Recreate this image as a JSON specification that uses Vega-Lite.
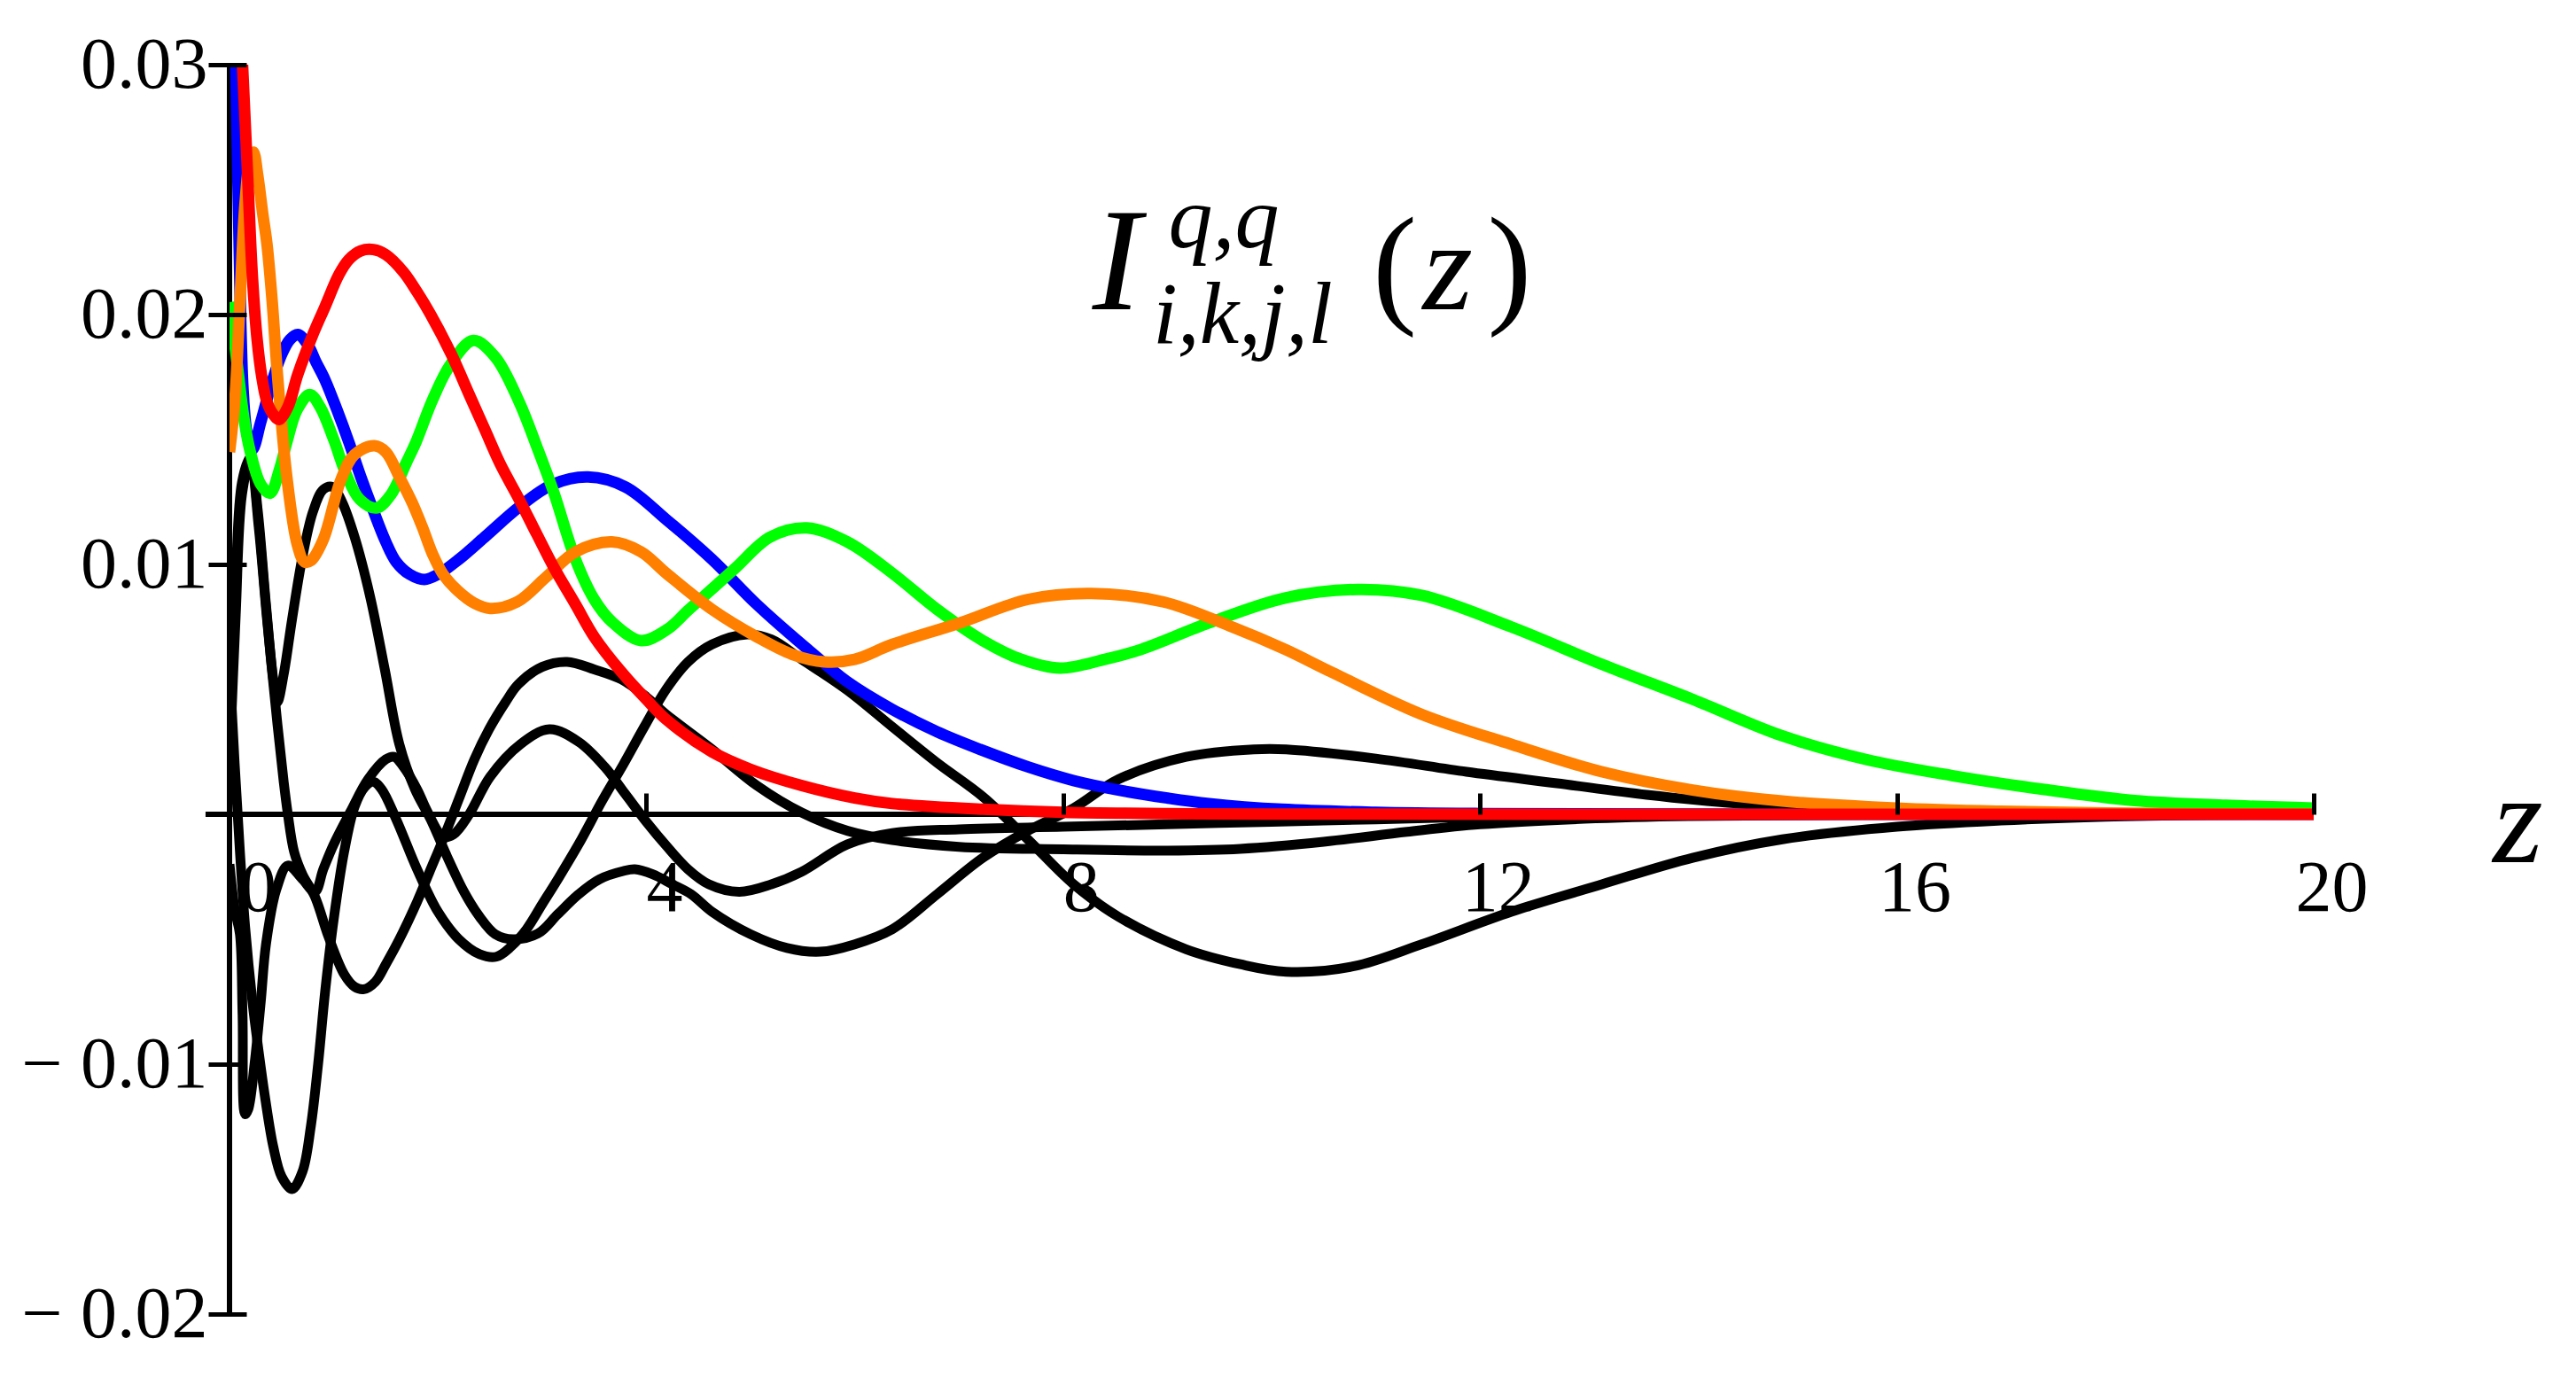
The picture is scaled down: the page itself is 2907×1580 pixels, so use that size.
{
  "$schema": "https://vega.github.io/schema/vega-lite/v6.json",
  "width": 2352,
  "height": 1410,
  "autosize": {"type": "none"},
  "padding": {"left": 259, "top": 73, "right": 296, "bottom": 97},
  "background": "white",
  "config": {"view": {"stroke": null}},
  "datasets": {
    "axisx": [{"z": -0.23, "z2": 20, "v": 0}],
    "axisy": [{"z": 0, "v": -0.02, "v2": 0.03}],
    "black": [
      {"s":"P","z":0,"v":0.004},{"s":"P","z":0.06,"v":0.0095},{"s":"P","z":0.12,"v":0.0133},{"s":"P","z":0.2,"v":0.0143},{"s":"P","z":0.27,"v":0.0122},{"s":"P","z":0.35,"v":0.0084},{"s":"P","z":0.42,"v":0.0054},{"s":"P","z":0.46,"v":0.0045},{"s":"P","z":0.52,"v":0.0056},{"s":"P","z":0.6,"v":0.0078},{"s":"P","z":0.7,"v":0.0103},{"s":"P","z":0.8,"v":0.0121},{"s":"P","z":0.9,"v":0.013},{"s":"P","z":0.99,"v":0.0131},{"s":"P","z":1.08,"v":0.0125},{"s":"P","z":1.2,"v":0.0111},{"s":"P","z":1.35,"v":0.0087},{"s":"P","z":1.49,"v":0.0058},{"s":"P","z":1.63,"v":0.0028},{"s":"P","z":1.78,"v":0.001},{"s":"P","z":1.93,"v":-0.0002},{"s":"P","z":2.1,"v":-0.0018},{"s":"P","z":2.25,"v":-0.0031},{"s":"P","z":2.4,"v":-0.0041},{"s":"P","z":2.55,"v":-0.0048},{"s":"P","z":2.72,"v":-0.005},{"s":"P","z":2.96,"v":-0.00477},{"s":"P","z":3.15,"v":-0.004},{"s":"P","z":3.35,"v":-0.0032},{"s":"P","z":3.55,"v":-0.0026},{"s":"P","z":3.78,"v":-0.00227},{"s":"P","z":3.89,"v":-0.0022},{"s":"P","z":4.06,"v":-0.0024},{"s":"P","z":4.25,"v":-0.0028},{"s":"P","z":4.43,"v":-0.0032},{"s":"P","z":4.63,"v":-0.0039},{"s":"P","z":5.0,"v":-0.0048},{"s":"P","z":5.35,"v":-0.00535},{"s":"P","z":5.67,"v":-0.0055},{"s":"P","z":6.0,"v":-0.0052},{"s":"P","z":6.36,"v":-0.0046},{"s":"P","z":6.79,"v":-0.0032},{"s":"P","z":7.23,"v":-0.00174},{"s":"P","z":7.66,"v":-0.00066},{"s":"P","z":8.1,"v":0.00025},{"s":"P","z":8.53,"v":0.0014},{"s":"P","z":9.18,"v":0.0023},{"s":"P","z":9.83,"v":0.0026},{"s":"P","z":10.14,"v":0.0026},{"s":"P","z":11.0,"v":0.00223},{"s":"P","z":11.87,"v":0.0017},{"s":"P","z":12.74,"v":0.00124},{"s":"P","z":13.6,"v":0.00078},{"s":"P","z":14.47,"v":0.00043},{"s":"P","z":15.3,"v":0.00025},{"s":"P","z":16.5,"v":0.0001},{"s":"P","z":18,"v":0.00003},{"s":"P","z":20,"v":0},
      {"s":"E","z":0,"v":0.006},{"s":"E","z":0.05,"v":0.002},{"s":"E","z":0.1,"v":-0.0015},{"s":"E","z":0.15,"v":-0.0045},{"s":"E","z":0.22,"v":-0.0075},{"s":"E","z":0.28,"v":-0.0095},{"s":"E","z":0.34,"v":-0.0113},{"s":"E","z":0.42,"v":-0.0133},{"s":"E","z":0.5,"v":-0.0145},{"s":"E","z":0.6,"v":-0.015},{"s":"E","z":0.7,"v":-0.0143},{"s":"E","z":0.78,"v":-0.0125},{"s":"E","z":0.85,"v":-0.01},{"s":"E","z":0.92,"v":-0.007},{"s":"E","z":1.0,"v":-0.0042},{"s":"E","z":1.1,"v":-0.0015},{"s":"E","z":1.2,"v":0.0003},{"s":"E","z":1.3,"v":0.0011},{"s":"E","z":1.38,"v":0.0013},{"s":"E","z":1.46,"v":0.001},{"s":"E","z":1.6,"v":-0.0002},{"s":"E","z":1.8,"v":-0.0022},{"s":"E","z":2.0,"v":-0.0039},{"s":"E","z":2.2,"v":-0.005},{"s":"E","z":2.4,"v":-0.0056},{"s":"E","z":2.56,"v":-0.0057},{"s":"E","z":2.7,"v":-0.0053},{"s":"E","z":2.85,"v":-0.0046},{"s":"E","z":3.0,"v":-0.0036},{"s":"E","z":3.15,"v":-0.0026},{"s":"E","z":3.35,"v":-0.0012},{"s":"E","z":3.58,"v":0.00057},{"s":"E","z":3.78,"v":0.002},{"s":"E","z":3.98,"v":0.0035},{"s":"E","z":4.19,"v":0.005},{"s":"E","z":4.4,"v":0.0061},{"s":"E","z":4.63,"v":0.0068},{"s":"E","z":4.97,"v":0.0072},{"s":"E","z":5.2,"v":0.007},{"s":"E","z":5.49,"v":0.0062},{"s":"E","z":5.93,"v":0.00496},{"s":"E","z":6.36,"v":0.0035},{"s":"E","z":6.79,"v":0.00206},{"s":"E","z":7.23,"v":0.0007},{"s":"E","z":7.66,"v":-0.001},{"s":"E","z":8.1,"v":-0.0028},{"s":"E","z":8.53,"v":-0.0041},{"s":"E","z":9.18,"v":-0.0054},{"s":"E","z":9.7,"v":-0.006},{"s":"E","z":10.14,"v":-0.0063},{"s":"E","z":10.79,"v":-0.00608},{"s":"E","z":11.44,"v":-0.0052},{"s":"E","z":12.3,"v":-0.0039},{"s":"E","z":13.17,"v":-0.0028},{"s":"E","z":14.04,"v":-0.00174},{"s":"E","z":14.9,"v":-0.001},{"s":"E","z":16,"v":-0.0005},{"s":"E","z":17,"v":-0.00025},{"s":"E","z":18,"v":-0.0001},{"s":"E","z":19,"v":-0.00003},{"s":"E","z":20,"v":0},
      {"s":"R","z":0,"v":-0.002},{"s":"R","z":0.05,"v":-0.0038},{"s":"R","z":0.1,"v":-0.0048},{"s":"R","z":0.125,"v":-0.008},{"s":"R","z":0.15,"v":-0.012},{"s":"R","z":0.18,"v":-0.0118},{"s":"R","z":0.24,"v":-0.01},{"s":"R","z":0.3,"v":-0.0075},{"s":"R","z":0.35,"v":-0.0052},{"s":"R","z":0.45,"v":-0.003},{"s":"R","z":0.56,"v":-0.00205},{"s":"R","z":0.7,"v":-0.0026},{"s":"R","z":0.82,"v":-0.0031},{"s":"R","z":0.9,"v":-0.0022},{"s":"R","z":1.0,"v":-0.0012},{"s":"R","z":1.16,"v":0.0001},{"s":"R","z":1.33,"v":0.0014},{"s":"R","z":1.5,"v":0.0022},{"s":"R","z":1.58,"v":0.0023},{"s":"R","z":1.67,"v":0.0019},{"s":"R","z":1.8,"v":0.001},{"s":"R","z":1.9,"v":0.0001},{"s":"R","z":2.05,"v":-0.0009},{"s":"R","z":2.15,"v":-0.0008},{"s":"R","z":2.3,"v":0.0},{"s":"R","z":2.5,"v":0.0015},{"s":"R","z":2.79,"v":0.0028},{"s":"R","z":3.07,"v":0.0034},{"s":"R","z":3.35,"v":0.0029},{"s":"R","z":3.6,"v":0.0019},{"s":"R","z":3.8,"v":0.0008},{"s":"R","z":4.0,"v":-0.0003},{"s":"R","z":4.2,"v":-0.0013},{"s":"R","z":4.4,"v":-0.0022},{"s":"R","z":4.6,"v":-0.0028},{"s":"R","z":4.89,"v":-0.0031},{"s":"R","z":5.2,"v":-0.0028},{"s":"R","z":5.49,"v":-0.0023},{"s":"R","z":5.93,"v":-0.0012},{"s":"R","z":6.36,"v":-0.00075},{"s":"R","z":7,"v":-0.0006},{"s":"R","z":8,"v":-0.0005},{"s":"R","z":9,"v":-0.0004},{"s":"R","z":10,"v":-0.0003},{"s":"R","z":11,"v":-0.0002},{"s":"R","z":12,"v":-0.0001},{"s":"R","z":14,"v":-0.00003},{"s":"R","z":20,"v":0},
      {"s":"S","z":0,"v":0.002},{"s":"S","z":0.06,"v":0.008},{"s":"S","z":0.12,"v":0.0128},{"s":"S","z":0.2,"v":0.0142},{"s":"S","z":0.28,"v":0.0115},{"s":"S","z":0.36,"v":0.0078},{"s":"S","z":0.46,"v":0.0036},{"s":"S","z":0.52,"v":0.0013},{"s":"S","z":0.56,"v":0.0},{"s":"S","z":0.62,"v":-0.0015},{"s":"S","z":0.7,"v":-0.0024},{"s":"S","z":0.82,"v":-0.0033},{"s":"S","z":0.95,"v":-0.0049},{"s":"S","z":1.1,"v":-0.0064},{"s":"S","z":1.2,"v":-0.0069},{"s":"S","z":1.29,"v":-0.007},{"s":"S","z":1.4,"v":-0.0067},{"s":"S","z":1.5,"v":-0.006},{"s":"S","z":1.63,"v":-0.005},{"s":"S","z":1.8,"v":-0.0035},{"s":"S","z":1.92,"v":-0.0023},{"s":"S","z":2.05,"v":-0.001},{"s":"S","z":2.2,"v":0.0006},{"s":"S","z":2.35,"v":0.0022},{"s":"S","z":2.49,"v":0.0034},{"s":"S","z":2.65,"v":0.0045},{"s":"S","z":2.77,"v":0.0052},{"s":"S","z":3.0,"v":0.0059},{"s":"S","z":3.24,"v":0.0061},{"s":"S","z":3.5,"v":0.0058},{"s":"S","z":3.76,"v":0.0054},{"s":"S","z":4.0,"v":0.0047},{"s":"S","z":4.19,"v":0.004},{"s":"S","z":4.63,"v":0.0026},{"s":"S","z":5.06,"v":0.00115},{"s":"S","z":5.49,"v":0.00007},{"s":"S","z":5.93,"v":-0.00066},{"s":"S","z":6.36,"v":-0.00103},{"s":"S","z":7,"v":-0.0013},{"s":"S","z":8,"v":-0.0014},{"s":"S","z":9,"v":-0.00145},{"s":"S","z":9.7,"v":-0.00138},{"s":"S","z":10.5,"v":-0.0011},{"s":"S","z":11.3,"v":-0.0007},{"s":"S","z":12,"v":-0.0004},{"s":"S","z":13,"v":-0.00018},{"s":"S","z":14,"v":-0.00007},{"s":"S","z":16,"v":-0.00001},{"s":"S","z":20,"v":0}
    ],
    "blue": [
      {"z":0,"v":0.04},{"z":0.03,"v":0.035},{"z":0.06,"v":0.03},{"z":0.08,"v":0.0255},{"z":0.1,"v":0.0212},{"z":0.13,"v":0.017},{"z":0.17,"v":0.0152},{"z":0.22,"v":0.0146},{"z":0.3,"v":0.0157},{"z":0.4,"v":0.0172},{"z":0.5,"v":0.0184},{"z":0.58,"v":0.019},{"z":0.655,"v":0.0192},{"z":0.75,"v":0.0188},{"z":0.83,"v":0.0181},{"z":0.915,"v":0.0174},{"z":1.03,"v":0.0162},{"z":1.145,"v":0.0149},{"z":1.26,"v":0.0135},{"z":1.376,"v":0.0122},{"z":1.5,"v":0.0109},{"z":1.6,"v":0.0101},{"z":1.73,"v":0.0096},{"z":1.87,"v":0.0094},{"z":2.0,"v":0.0096},{"z":2.2,"v":0.0102},{"z":2.45,"v":0.0111},{"z":2.78,"v":0.0123},{"z":3.1,"v":0.0132},{"z":3.44,"v":0.0135},{"z":3.8,"v":0.0131},{"z":4.19,"v":0.0118},{"z":4.63,"v":0.0102},{"z":5.06,"v":0.0084},{"z":5.55,"v":0.0066},{"z":5.93,"v":0.0053},{"z":6.36,"v":0.0042},{"z":6.79,"v":0.0033},{"z":7.2,"v":0.0026},{"z":7.66,"v":0.0019},{"z":8.1,"v":0.00135},{"z":8.53,"v":0.00097},{"z":9.0,"v":0.00065},{"z":9.4,"v":0.00043},{"z":10.1,"v":0.0002},{"z":11,"v":0.00008},{"z":12,"v":0.00003},{"z":14,"v":0.000005},{"z":20,"v":0}
    ],
    "green": [
      {"z":0,"v":0.0205},{"z":0.03,"v":0.0195},{"z":0.08,"v":0.0178},{"z":0.14,"v":0.0158},{"z":0.2,"v":0.0145},{"z":0.3,"v":0.0132},{"z":0.39,"v":0.01285},{"z":0.48,"v":0.0138},{"z":0.55,"v":0.0149},{"z":0.65,"v":0.0162},{"z":0.77,"v":0.0168},{"z":0.87,"v":0.0163},{"z":1.0,"v":0.015},{"z":1.12,"v":0.0136},{"z":1.25,"v":0.0126},{"z":1.41,"v":0.01226},{"z":1.55,"v":0.0128},{"z":1.7,"v":0.0141},{"z":1.79,"v":0.0149},{"z":1.95,"v":0.0166},{"z":2.12,"v":0.018},{"z":2.34,"v":0.01896},{"z":2.55,"v":0.0183},{"z":2.78,"v":0.0165},{"z":2.95,"v":0.0147},{"z":3.11,"v":0.0129},{"z":3.32,"v":0.0102},{"z":3.5,"v":0.0086},{"z":3.67,"v":0.0077},{"z":3.95,"v":0.00695},{"z":4.2,"v":0.0074},{"z":4.41,"v":0.0082},{"z":4.84,"v":0.0098},{"z":5.19,"v":0.0111},{"z":5.54,"v":0.01146},{"z":5.93,"v":0.0109},{"z":6.36,"v":0.00965},{"z":6.79,"v":0.0082},{"z":7.23,"v":0.00695},{"z":7.6,"v":0.0062},{"z":7.97,"v":0.00585},{"z":8.4,"v":0.0062},{"z":8.75,"v":0.0066},{"z":9.4,"v":0.00766},{"z":10.13,"v":0.00866},{"z":10.83,"v":0.009},{"z":11.44,"v":0.00876},{"z":12.3,"v":0.0075},{"z":13.17,"v":0.006},{"z":14.04,"v":0.0046},{"z":14.9,"v":0.00314},{"z":15.7,"v":0.0022},{"z":16.53,"v":0.00155},{"z":17.4,"v":0.001},{"z":18.28,"v":0.00055},{"z":19.16,"v":0.00036},{"z":20,"v":0.00025}
    ],
    "orange": [
      {"z":0,"v":0.0145},{"z":0.05,"v":0.0165},{"z":0.1,"v":0.0205},{"z":0.15,"v":0.0245},{"z":0.2,"v":0.0263},{"z":0.23,"v":0.0265},{"z":0.27,"v":0.0256},{"z":0.32,"v":0.024},{"z":0.36,"v":0.0228},{"z":0.41,"v":0.0205},{"z":0.46,"v":0.0176},{"z":0.55,"v":0.0135},{"z":0.65,"v":0.0108},{"z":0.72,"v":0.0101},{"z":0.78,"v":0.01015},{"z":0.9,"v":0.011},{"z":1.07,"v":0.0134},{"z":1.2,"v":0.0144},{"z":1.39,"v":0.01475},{"z":1.5,"v":0.0145},{"z":1.63,"v":0.0135},{"z":1.75,"v":0.0125},{"z":1.85,"v":0.0115},{"z":1.95,"v":0.0104},{"z":2.05,"v":0.0096},{"z":2.19,"v":0.00895},{"z":2.35,"v":0.00845},{"z":2.5,"v":0.00824},{"z":2.76,"v":0.0085},{"z":3.04,"v":0.0095},{"z":3.32,"v":0.0105},{"z":3.67,"v":0.0109},{"z":3.95,"v":0.0105},{"z":4.19,"v":0.00965},{"z":4.63,"v":0.0082},{"z":5.06,"v":0.0071},{"z":5.4,"v":0.0064},{"z":5.71,"v":0.0061},{"z":6.0,"v":0.0062},{"z":6.36,"v":0.0068},{"z":7.01,"v":0.00766},{"z":7.66,"v":0.0086},{"z":8.27,"v":0.00884},{"z":8.96,"v":0.0085},{"z":9.62,"v":0.0075},{"z":10.13,"v":0.0066},{"z":10.57,"v":0.0057},{"z":11.44,"v":0.004},{"z":12.3,"v":0.0028},{"z":13.17,"v":0.0017},{"z":14.04,"v":0.00097},{"z":14.9,"v":0.00053},{"z":16,"v":0.00025},{"z":17,"v":0.00012},{"z":18,"v":0.00005},{"z":19,"v":0.00002},{"z":20,"v":0.00001}
    ],
    "red": [
      {"z":0,"v":0.042},{"z":0.06,"v":0.036},{"z":0.125,"v":0.03},{"z":0.18,"v":0.025},{"z":0.22,"v":0.0215},{"z":0.265,"v":0.019},{"z":0.31,"v":0.0175},{"z":0.36,"v":0.0165},{"z":0.42,"v":0.016},{"z":0.475,"v":0.0158},{"z":0.56,"v":0.0163},{"z":0.655,"v":0.0176},{"z":0.8,"v":0.0192},{"z":0.915,"v":0.0203},{"z":1.05,"v":0.0216},{"z":1.145,"v":0.0222},{"z":1.26,"v":0.02255},{"z":1.38,"v":0.0226},{"z":1.5,"v":0.0224},{"z":1.67,"v":0.0217},{"z":1.8,"v":0.0209},{"z":1.93,"v":0.02},{"z":2.13,"v":0.0184},{"z":2.3,"v":0.0168},{"z":2.45,"v":0.0154},{"z":2.6,"v":0.014},{"z":2.78,"v":0.0126},{"z":2.95,"v":0.0112},{"z":3.11,"v":0.0099},{"z":3.32,"v":0.0084},{"z":3.5,"v":0.0071},{"z":3.76,"v":0.0057},{"z":4.0,"v":0.0046},{"z":4.19,"v":0.0038},{"z":4.63,"v":0.0025},{"z":5.0,"v":0.0018},{"z":5.49,"v":0.00115},{"z":6.0,"v":0.00065},{"z":6.36,"v":0.00043},{"z":7.23,"v":0.0002},{"z":8,"v":0.00008},{"z":9,"v":0.00003},{"z":10,"v":0.00001},{"z":20,"v":0}
    ],
    "tI": [{"z": 8.28, "v": 0.0202, "label": "I"}],
    "tsub": [{"z": 9.01, "v": 0.02271, "label": "q,q"}, {"z": 8.86, "v": 0.01885, "label": "i,k,j,l"}],
    "tpar": [{"z": 10.97, "v": 0.0202, "label": "("}, {"z": 12.07, "v": 0.0202, "label": ")"}],
    "tz": [{"z": 11.45, "v": 0.0202, "label": "z"}, {"z": 21.72, "v": -0.0019, "label": "z"}]
  },
  "encoding": {
    "x": {"field": "z", "type": "quantitative", "scale": {"domain": [0, 20], "nice": false, "zero": false},
      "axis": {"values": [0, 4, 8, 12, 16, 20], "title": null, "domain": false, "grid": false, "offset": -564, "tickSize": -24, "tickWidth": 5, "tickColor": "black", "labelFont": "Liberation Serif", "labelFontSize": 82, "labelColor": "black", "labelBaseline": "alphabetic", "labelPadding": 132, "labelAlign": "center", "labelOffset": {"condition": {"test": "datum.value == 0", "value": 32}, "value": 20}, "labelFlush": false, "labelOverlap": false, "labelBound": false, "labelLimit": 1000, "format": "d", "zindex": 1}},
    "y": {"field": "v", "type": "quantitative", "scale": {"domain": [-0.02, 0.03], "nice": false, "zero": false},
      "axis": {"values": [-0.02, -0.01, 0.01, 0.02, 0.03], "title": null, "domain": false, "grid": false, "offset": -19, "tickSize": 43, "tickWidth": 5, "tickColor": "black", "labelFont": "Liberation Serif", "labelFontSize": 82, "labelColor": "black", "labelPadding": 1, "labelBaseline": "middle", "labelExpr": "datum.value < 0 ? '\u2212 ' + format(-datum.value, '.2f') : format(datum.value, '.2f')", "labelFlush": false, "labelOverlap": false, "labelBound": false, "labelLimit": 1000, "zindex": 1}}
  },
  "layer": [
    {
      "data": {"name": "axisx"},
      "mark": {"type": "rule", "color": "black", "strokeWidth": 6},
      "encoding": {"x2": {"field": "z2"}}
    },
    {
      "data": {"name": "axisy"},
      "mark": {"type": "rule", "color": "black", "strokeWidth": 6},
      "encoding": {"y2": {"field": "v2"}}
    },
    {
      "data": {"name": "black"},
      "mark": {"type": "line", "color": "black", "strokeWidth": 11, "interpolate": "catmull-rom", "clip": true, "strokeJoin": "round"},
      "encoding": {"detail": {"field": "s", "type": "nominal"}}
    },
    {
      "data": {"name": "blue"},
      "mark": {"type": "line", "color": "#0000FF", "strokeWidth": 13, "interpolate": "catmull-rom", "clip": true, "strokeJoin": "round"}
    },
    {
      "data": {"name": "green"},
      "mark": {"type": "line", "color": "#00FF00", "strokeWidth": 13, "interpolate": "catmull-rom", "clip": true, "strokeJoin": "round"}
    },
    {
      "data": {"name": "orange"},
      "mark": {"type": "line", "color": "#FF8000", "strokeWidth": 13, "interpolate": "catmull-rom", "clip": true, "strokeJoin": "round"}
    },
    {
      "data": {"name": "red"},
      "mark": {"type": "line", "color": "#FF0000", "strokeWidth": 13, "interpolate": "catmull-rom", "clip": true, "strokeJoin": "round"}
    },
    {
      "data": {"name": "tI"},
      "mark": {"type": "text", "font": "Liberation Serif", "fontStyle": "italic", "fontSize": 165, "align": "left", "baseline": "alphabetic", "color": "black"},
      "encoding": {"text": {"field": "label"}}
    },
    {
      "data": {"name": "tsub"},
      "mark": {"type": "text", "font": "Liberation Serif", "fontStyle": "italic", "fontSize": 100, "align": "left", "baseline": "alphabetic", "color": "black"},
      "encoding": {"text": {"field": "label"}}
    },
    {
      "data": {"name": "tpar"},
      "mark": {"type": "text", "font": "Liberation Serif", "fontSize": 150, "align": "left", "baseline": "alphabetic", "color": "black"},
      "encoding": {"text": {"field": "label"}}
    },
    {
      "data": {"name": "tz"},
      "mark": {"type": "text", "font": "Liberation Serif", "fontStyle": "italic", "fontSize": 145, "align": "left", "baseline": "alphabetic", "color": "black"},
      "encoding": {"text": {"field": "label"}}
    }
  ]
}
